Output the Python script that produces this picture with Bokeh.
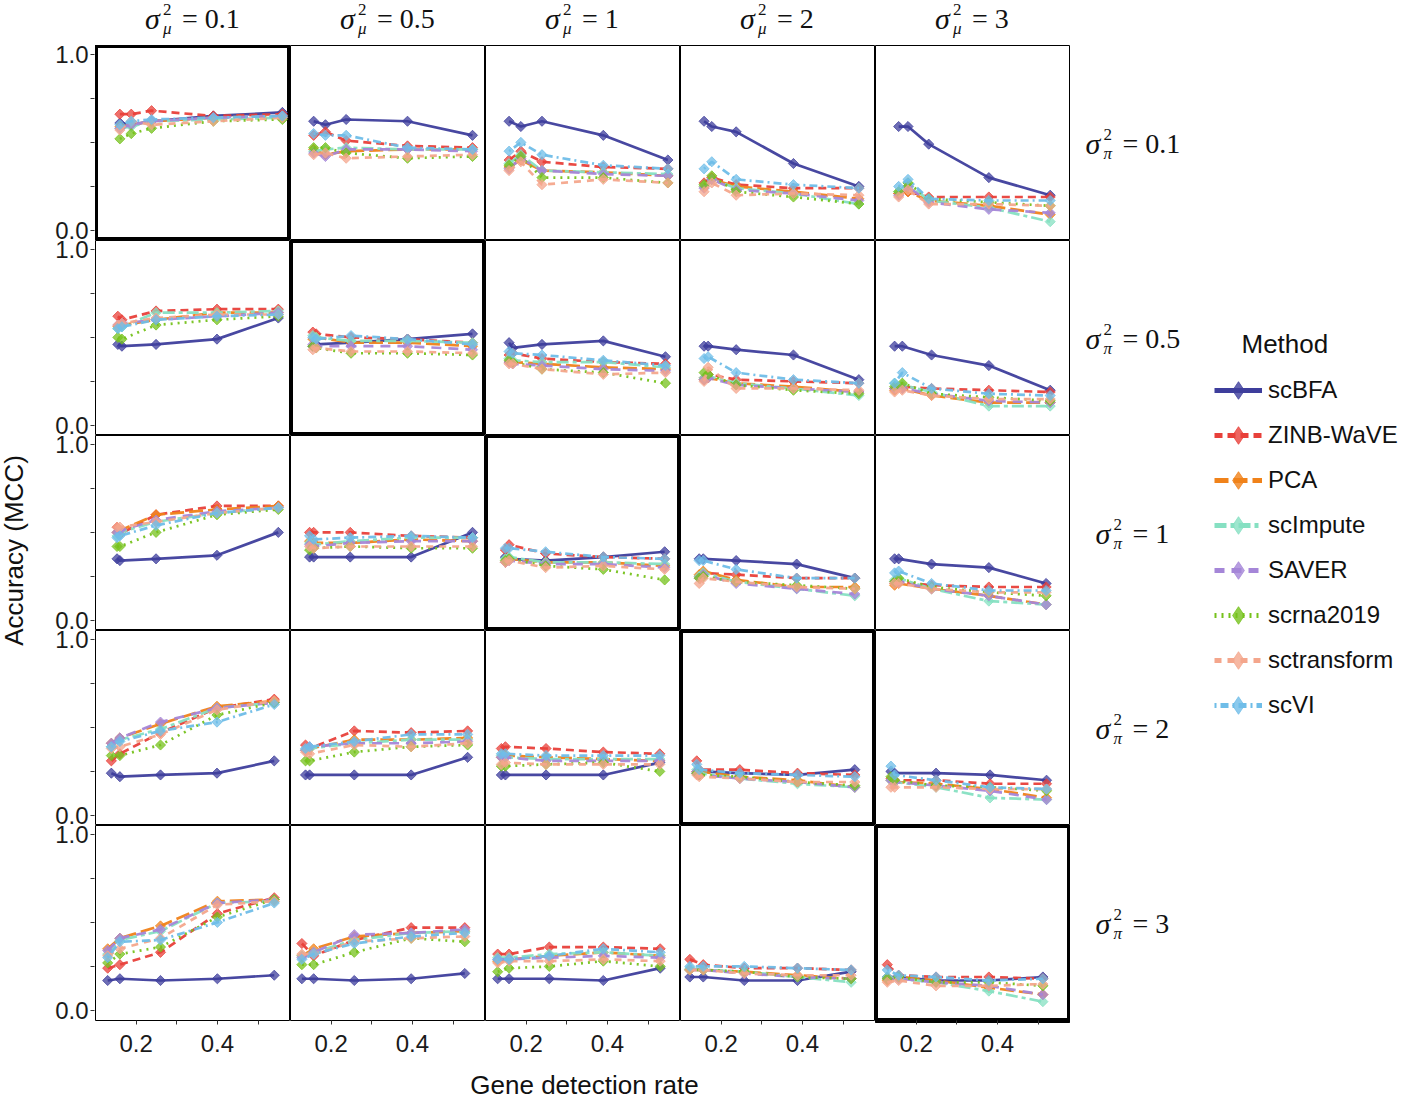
import numpy as np
from bokeh.plotting import figure
from bokeh.layouts import row, column
from bokeh.models import (ColumnDataSource, Legend, LegendItem, FixedTicker, Range1d,
                          NumeralTickFormatter, CustomJSTickFormatter)
from bokeh.embed import file_html
from bokeh.resources import INLINE
from bokeh.core.properties import value

# ---------------- data ----------------
methods = ["scBFA", "ZINB-WaVE", "PCA", "scImpute", "SAVER", "scrna2019", "sctransform", "scVI"]
mu_labels = ["0.1", "0.5", "1", "2", "3"]   # columns: sigma_mu^2
pi_labels = ["0.1", "0.5", "1", "2", "3"]   # rows: sigma_pi^2

# gene detection rate (x) per row (sigma_pi^2), per column (sigma_mu^2)
gdr_pi01 = [[0.160, 0.188, 0.238, 0.390, 0.560], [0.157, 0.186, 0.237, 0.388, 0.548],
            [0.158, 0.187, 0.239, 0.390, 0.549], [0.158, 0.177, 0.237, 0.378, 0.539],
            [0.157, 0.180, 0.231, 0.379, 0.530]]
gdr_pi05 = [[0.155, 0.165, 0.249, 0.399, 0.550], [0.155, 0.163, 0.249, 0.388, 0.548],
            [0.158, 0.167, 0.239, 0.390, 0.543], [0.158, 0.168, 0.237, 0.378, 0.539],
            [0.147, 0.166, 0.238, 0.379, 0.530]]
gdr_pi1 = [[0.153, 0.160, 0.249, 0.399, 0.550], [0.147, 0.157, 0.247, 0.397, 0.548],
           [0.149, 0.158, 0.248, 0.390, 0.541], [0.146, 0.156, 0.237, 0.386, 0.529],
           [0.147, 0.157, 0.238, 0.379, 0.520]]
gdr_pi2 = [[0.139, 0.160, 0.260, 0.399, 0.540], [0.137, 0.147, 0.257, 0.397, 0.536],
           [0.139, 0.149, 0.249, 0.390, 0.529], [0.140, 0.146, 0.246, 0.388, 0.529],
           [0.138, 0.147, 0.249, 0.382, 0.521]]
gdr_pi3 = [[0.130, 0.160, 0.260, 0.400, 0.540], [0.128, 0.157, 0.257, 0.397, 0.529],
           [0.130, 0.158, 0.257, 0.390, 0.530], [0.123, 0.156, 0.257, 0.388, 0.520],
           [0.129, 0.157, 0.249, 0.379, 0.512]]

# accuracy (MCC): [row sigma_pi^2][column sigma_mu^2][5 points]
scBFA = [
    [[0.61, 0.60, 0.62, 0.65, 0.67], [0.62, 0.60, 0.63, 0.62, 0.54], [0.62, 0.59, 0.62, 0.54, 0.40], [0.62, 0.59, 0.56, 0.38, 0.25], [0.59, 0.59, 0.49, 0.30, 0.20]],
    [[0.46, 0.45, 0.46, 0.49, 0.61], [0.45, 0.46, 0.47, 0.49, 0.52], [0.47, 0.44, 0.46, 0.48, 0.39], [0.45, 0.45, 0.43, 0.40, 0.26], [0.45, 0.45, 0.40, 0.34, 0.20]],
    [[0.35, 0.34, 0.35, 0.37, 0.50], [0.36, 0.36, 0.36, 0.36, 0.50], [0.36, 0.35, 0.34, 0.36, 0.39], [0.35, 0.35, 0.34, 0.32, 0.24], [0.35, 0.35, 0.32, 0.30, 0.21]],
    [[0.24, 0.22, 0.23, 0.24, 0.31], [0.23, 0.23, 0.23, 0.23, 0.33], [0.23, 0.23, 0.23, 0.23, 0.30], [0.24, 0.25, 0.24, 0.23, 0.26], [0.25, 0.24, 0.24, 0.23, 0.20]],
    [[0.17, 0.18, 0.17, 0.18, 0.20], [0.18, 0.18, 0.17, 0.18, 0.21], [0.18, 0.18, 0.18, 0.17, 0.24], [0.19, 0.19, 0.17, 0.17, 0.22], [0.19, 0.19, 0.17, 0.17, 0.19]],
]
ZINB_WaVE = [
    [[0.66, 0.66, 0.68, 0.65, 0.66], [0.54, 0.56, 0.51, 0.48, 0.47], [0.40, 0.45, 0.39, 0.36, 0.35], [0.27, 0.30, 0.26, 0.24, 0.24], [0.21, 0.22, 0.19, 0.19, 0.19]],
    [[0.62, 0.60, 0.65, 0.66, 0.66], [0.53, 0.52, 0.50, 0.49, 0.47], [0.40, 0.41, 0.38, 0.36, 0.35], [0.27, 0.29, 0.26, 0.25, 0.24], [0.21, 0.22, 0.21, 0.20, 0.19]],
    [[0.53, 0.49, 0.60, 0.65, 0.65], [0.50, 0.50, 0.50, 0.48, 0.47], [0.40, 0.43, 0.38, 0.36, 0.35], [0.25, 0.27, 0.26, 0.24, 0.24], [0.21, 0.22, 0.20, 0.19, 0.19]],
    [[0.31, 0.35, 0.47, 0.61, 0.66], [0.40, 0.38, 0.48, 0.47, 0.48], [0.38, 0.39, 0.38, 0.36, 0.35], [0.31, 0.26, 0.26, 0.24, 0.23], [0.21, 0.20, 0.20, 0.18, 0.18]],
    [[0.24, 0.26, 0.33, 0.55, 0.64], [0.38, 0.31, 0.40, 0.47, 0.47], [0.32, 0.32, 0.36, 0.36, 0.35], [0.29, 0.26, 0.24, 0.24, 0.23], [0.26, 0.20, 0.19, 0.19, 0.18]],
]
PCA = [
    [[0.59, 0.60, 0.62, 0.64, 0.65], [0.46, 0.43, 0.45, 0.46, 0.46], [0.36, 0.40, 0.34, 0.33, 0.31], [0.25, 0.29, 0.25, 0.22, 0.18], [0.21, 0.22, 0.17, 0.14, 0.09]],
    [[0.56, 0.57, 0.60, 0.64, 0.64], [0.49, 0.50, 0.47, 0.47, 0.45], [0.36, 0.36, 0.35, 0.33, 0.32], [0.26, 0.27, 0.24, 0.22, 0.19], [0.20, 0.21, 0.17, 0.13, 0.13]],
    [[0.50, 0.51, 0.60, 0.63, 0.65], [0.45, 0.44, 0.44, 0.46, 0.45], [0.33, 0.35, 0.33, 0.33, 0.31], [0.26, 0.28, 0.23, 0.19, 0.19], [0.20, 0.21, 0.18, 0.14, 0.09]],
    [[0.41, 0.44, 0.52, 0.62, 0.65], [0.37, 0.38, 0.43, 0.43, 0.44], [0.33, 0.34, 0.33, 0.32, 0.31], [0.25, 0.25, 0.22, 0.20, 0.16], [0.20, 0.19, 0.18, 0.15, 0.10]],
    [[0.35, 0.41, 0.48, 0.62, 0.63], [0.31, 0.35, 0.42, 0.44, 0.45], [0.28, 0.29, 0.31, 0.33, 0.31], [0.23, 0.23, 0.22, 0.20, 0.18], [0.17, 0.19, 0.17, 0.13, 0.09]],
]
scImpute = [
    [[0.58, 0.59, 0.62, 0.63, 0.64], [0.45, 0.46, 0.47, 0.46, 0.46], [0.38, 0.43, 0.34, 0.33, 0.32], [0.25, 0.29, 0.24, 0.21, 0.15], [0.22, 0.27, 0.17, 0.13, 0.05]],
    [[0.55, 0.56, 0.64, 0.64, 0.65], [0.51, 0.50, 0.48, 0.48, 0.47], [0.38, 0.37, 0.36, 0.36, 0.33], [0.27, 0.28, 0.24, 0.21, 0.17], [0.24, 0.23, 0.19, 0.11, 0.11]],
    [[0.48, 0.50, 0.56, 0.61, 0.64], [0.44, 0.43, 0.45, 0.47, 0.47], [0.35, 0.36, 0.33, 0.33, 0.32], [0.25, 0.27, 0.22, 0.18, 0.14], [0.23, 0.24, 0.18, 0.11, 0.09]],
    [[0.39, 0.43, 0.49, 0.61, 0.64], [0.37, 0.38, 0.41, 0.43, 0.43], [0.34, 0.33, 0.32, 0.32, 0.32], [0.26, 0.24, 0.21, 0.18, 0.16], [0.20, 0.19, 0.16, 0.10, 0.09]],
    [[0.32, 0.40, 0.45, 0.61, 0.62], [0.31, 0.33, 0.40, 0.44, 0.45], [0.30, 0.30, 0.32, 0.33, 0.31], [0.24, 0.23, 0.22, 0.19, 0.16], [0.19, 0.18, 0.16, 0.11, 0.05]],
]
SAVER = [
    [[0.58, 0.60, 0.62, 0.64, 0.65], [0.44, 0.42, 0.46, 0.46, 0.45], [0.35, 0.41, 0.34, 0.32, 0.31], [0.24, 0.29, 0.23, 0.21, 0.17], [0.20, 0.25, 0.16, 0.12, 0.10]],
    [[0.57, 0.58, 0.60, 0.62, 0.64], [0.46, 0.45, 0.45, 0.45, 0.43], [0.36, 0.35, 0.34, 0.32, 0.31], [0.26, 0.27, 0.23, 0.21, 0.19], [0.21, 0.21, 0.18, 0.14, 0.13]],
    [[0.50, 0.51, 0.57, 0.62, 0.64], [0.43, 0.42, 0.44, 0.45, 0.45], [0.33, 0.34, 0.32, 0.32, 0.30], [0.24, 0.26, 0.21, 0.18, 0.15], [0.22, 0.22, 0.18, 0.14, 0.09]],
    [[0.41, 0.44, 0.53, 0.61, 0.64], [0.37, 0.39, 0.41, 0.41, 0.42], [0.33, 0.33, 0.31, 0.31, 0.31], [0.25, 0.23, 0.21, 0.19, 0.16], [0.20, 0.19, 0.17, 0.14, 0.09]],
    [[0.34, 0.41, 0.46, 0.61, 0.63], [0.30, 0.33, 0.43, 0.44, 0.46], [0.29, 0.29, 0.30, 0.31, 0.30], [0.23, 0.23, 0.21, 0.19, 0.18], [0.18, 0.18, 0.16, 0.14, 0.09]],
]
scrna2019 = [
    [[0.52, 0.55, 0.58, 0.62, 0.63], [0.47, 0.47, 0.44, 0.41, 0.42], [0.37, 0.42, 0.30, 0.30, 0.27], [0.26, 0.31, 0.22, 0.19, 0.15], [0.22, 0.27, 0.18, 0.16, 0.14]],
    [[0.50, 0.49, 0.57, 0.60, 0.62], [0.45, 0.44, 0.41, 0.41, 0.40], [0.37, 0.36, 0.32, 0.30, 0.24], [0.30, 0.29, 0.23, 0.20, 0.18], [0.22, 0.24, 0.18, 0.16, 0.14]],
    [[0.42, 0.42, 0.50, 0.60, 0.63], [0.40, 0.41, 0.42, 0.41, 0.41], [0.34, 0.35, 0.31, 0.29, 0.23], [0.24, 0.25, 0.22, 0.20, 0.18], [0.22, 0.24, 0.19, 0.16, 0.14]],
    [[0.34, 0.34, 0.40, 0.57, 0.64], [0.31, 0.31, 0.36, 0.39, 0.40], [0.28, 0.28, 0.29, 0.30, 0.25], [0.24, 0.23, 0.22, 0.19, 0.17], [0.22, 0.20, 0.17, 0.16, 0.14]],
    [[0.27, 0.32, 0.36, 0.53, 0.63], [0.26, 0.26, 0.33, 0.41, 0.39], [0.22, 0.24, 0.25, 0.28, 0.25], [0.23, 0.23, 0.22, 0.19, 0.18], [0.18, 0.19, 0.16, 0.16, 0.14]],
]
sctransform = [
    [[0.57, 0.62, 0.60, 0.62, 0.64], [0.43, 0.44, 0.41, 0.42, 0.43], [0.34, 0.39, 0.26, 0.29, 0.27], [0.22, 0.27, 0.20, 0.21, 0.20], [0.19, 0.23, 0.15, 0.15, 0.14]],
    [[0.57, 0.58, 0.61, 0.63, 0.63], [0.43, 0.44, 0.42, 0.42, 0.41], [0.35, 0.35, 0.32, 0.29, 0.30], [0.25, 0.33, 0.21, 0.21, 0.20], [0.19, 0.20, 0.17, 0.15, 0.15]],
    [[0.53, 0.53, 0.56, 0.61, 0.64], [0.42, 0.41, 0.42, 0.42, 0.42], [0.33, 0.34, 0.30, 0.31, 0.29], [0.21, 0.24, 0.22, 0.19, 0.18], [0.21, 0.21, 0.18, 0.16, 0.16]],
    [[0.38, 0.39, 0.46, 0.60, 0.65], [0.36, 0.35, 0.40, 0.39, 0.41], [0.29, 0.30, 0.29, 0.29, 0.29], [0.23, 0.22, 0.21, 0.19, 0.19], [0.16, 0.16, 0.16, 0.15, 0.15]],
    [[0.31, 0.35, 0.41, 0.60, 0.62], [0.32, 0.32, 0.39, 0.41, 0.42], [0.27, 0.28, 0.28, 0.29, 0.28], [0.23, 0.23, 0.21, 0.20, 0.20], [0.16, 0.17, 0.14, 0.14, 0.15]],
]
scVI = [
    [[0.60, 0.62, 0.63, 0.64, 0.65], [0.55, 0.54, 0.54, 0.47, 0.46], [0.45, 0.50, 0.43, 0.37, 0.35], [0.35, 0.39, 0.29, 0.26, 0.24], [0.25, 0.29, 0.18, 0.17, 0.17]],
    [[0.55, 0.56, 0.60, 0.62, 0.63], [0.50, 0.49, 0.51, 0.49, 0.46], [0.42, 0.41, 0.40, 0.37, 0.34], [0.38, 0.39, 0.30, 0.26, 0.24], [0.24, 0.30, 0.21, 0.18, 0.17]],
    [[0.47, 0.48, 0.54, 0.61, 0.64], [0.48, 0.46, 0.47, 0.48, 0.47], [0.41, 0.41, 0.39, 0.36, 0.35], [0.34, 0.34, 0.29, 0.24, 0.24], [0.27, 0.28, 0.21, 0.17, 0.17]],
    [[0.39, 0.42, 0.48, 0.53, 0.63], [0.38, 0.39, 0.42, 0.46, 0.46], [0.35, 0.35, 0.34, 0.34, 0.34], [0.29, 0.26, 0.24, 0.23, 0.22], [0.28, 0.23, 0.20, 0.16, 0.15]],
    [[0.30, 0.39, 0.40, 0.50, 0.61], [0.29, 0.32, 0.38, 0.42, 0.44], [0.29, 0.29, 0.31, 0.35, 0.33], [0.25, 0.25, 0.25, 0.24, 0.23], [0.23, 0.20, 0.19, 0.17, 0.18]],
]

series = [scBFA, ZINB_WaVE, PCA, scImpute, SAVER, scrna2019, sctransform, scVI]
gdr = [gdr_pi01, gdr_pi05, gdr_pi1, gdr_pi2, gdr_pi3]

# ---------------- style ----------------
colors = ["#3E3E9C", "#E8403A", "#F0821A", "#86E0C2", "#A586D8", "#76C21C", "#F4A68C", "#6FBDE8"]
dashes = ["solid", "8 5", "14 5", "12 4 4 4", "10 7", "2 5", "7 6", "2 4 8 4"]
SANS = "Liberation Sans"
SERIF = "Liberation Serif"
PW = 195          # panel size
HDR = 45          # column-strip header height
BB = 42           # bottom border for x axis
XT = 40           # x title height
GRID_H = 5 * PW
TOTAL_H = HDR + GRID_H + BB + XT
BOT = TOTAL_H - HDR - GRID_H
YLO, YHI = -0.057, 1.05
SPAN = YHI - YLO


def style_axis(ax, standoff):
    ax.axis_line_color = None
    ax.major_tick_line_color = "#333333"
    ax.minor_tick_line_color = "#333333"
    ax.major_tick_out = 4
    ax.major_tick_in = 0
    ax.minor_tick_out = 4
    ax.minor_tick_in = 0
    ax.major_label_text_font = SANS
    ax.major_label_text_font_size = "24px"
    ax.major_label_text_color = "#1a1a1a"
    ax.major_label_standoff = standoff


def blank_fig(w, h, xr, yr, top=0, bottom=0):
    f = figure(width=w, height=h, x_range=Range1d(*xr), y_range=Range1d(*yr),
               output_backend="svg", toolbar_location=None,
               x_axis_location=None, y_axis_location=None,
               min_border_left=0, min_border_right=0, min_border_top=top, min_border_bottom=bottom)
    f.outline_line_color = None
    f.xgrid.visible = False
    f.ygrid.visible = False
    return f


def make_panel(r, c):
    bottom = BB if r == 4 else 0
    p = figure(width=PW, height=PW + bottom,
               x_range=Range1d(0.1, 0.58), y_range=Range1d(YLO, YHI),
               output_backend="svg", toolbar_location=None,
               x_axis_location="below" if r == 4 else None, y_axis_location=None,
               min_border_left=0, min_border_right=0,
               min_border_top=0, min_border_bottom=bottom)
    p.xgrid.visible = False
    p.ygrid.visible = False
    p.outline_line_color = "black"
    p.outline_line_width = 5 if r == c else 1
    p.outline_line_alpha = 1
    if r == 4:
        ax = p.xaxis[0]
        ax.ticker = FixedTicker(ticks=[0.2, 0.4], minor_ticks=[0.3, 0.5])
        ax.formatter = NumeralTickFormatter(format="0.0")
        style_axis(ax, 10)
    for m in range(len(methods)):
        src = ColumnDataSource(dict(x=gdr[r][c], y=series[m][r][c]))
        p.line("x", "y", source=src, line_color=colors[m], line_width=2.7,
               line_dash=dashes[m], line_alpha=0.95)
        p.scatter("x", "y", source=src, marker="square", angle=np.pi / 4, size=7.2,
                  fill_color=colors[m], line_color=colors[m], fill_alpha=0.75, line_alpha=0.75)
    return p


def sigma_labels(f, xs, ys, sub, vals):
    n = len(xs)
    starts = [-48 if "." in v else -38 for v in vals]
    common = dict(text_align="left", text_baseline="middle", text_color="#111111")
    f.text(x=xs, y=ys, text=["σ"] * n, x_offset=starts, y_offset=[0] * n,
           text_font=value(SERIF), text_font_style="italic", text_font_size="30px", **common)
    f.text(x=xs, y=ys, text=["2"] * n, x_offset=[s + 18 for s in starts], y_offset=[-9] * n,
           text_font=value(SERIF), text_font_size="17px", **common)
    f.text(x=xs, y=ys, text=[sub] * n, x_offset=[s + 18 for s in starts], y_offset=[10] * n,
           text_font=value(SERIF), text_font_style="italic", text_font_size="17px", **common)
    f.text(x=xs, y=ys, text=["= " + v for v in vals], x_offset=[s + 37 for s in starts],
           y_offset=[0] * n, text_font=value(SERIF), text_font_size="28px", **common)


panels = [[make_panel(r, c) for c in range(5)] for r in range(5)]

# column strip header (sigma_mu^2)
header = blank_fig(5 * PW, HDR, (0, 5), (0, HDR))
sigma_labels(header, [c + 0.5 for c in range(5)], [27] * 5, "μ", mu_labels)

# x title
xtitle = blank_fig(5 * PW, XT, (0, 5 * PW), (0, XT))
xtitle.text(x=[489], y=[18], text=["Gene detection rate"],
            text_font=value(SANS), text_font_size="26px",
            text_align="center", text_baseline="middle", text_color="#111111")

center = column(header, *[row(*panels[r]) for r in range(5)], xtitle)

# shared y axis for the five panel rows (stacked scale: each row spans YLO..YHI)
yax = figure(width=48, height=TOTAL_H, x_range=Range1d(0, 1),
             y_range=Range1d(0, 5 * SPAN), output_backend="svg", toolbar_location=None,
             x_axis_location=None, y_axis_location="left",
             min_border_left=47, min_border_right=0, min_border_top=HDR,
             min_border_bottom=BOT)
yax.outline_line_color = None
yax.xgrid.visible = False
yax.ygrid.visible = False
major = []
minor = []
for k in range(5):
    base = k * SPAN - YLO
    major += [base + 0.0, base + 1.0]
    minor += [base + 0.25, base + 0.5, base + 0.75]
ay = yax.yaxis[0]
ay.ticker = FixedTicker(ticks=major, minor_ticks=minor)
ay.formatter = CustomJSTickFormatter(
    args=dict(span=SPAN, lo=YLO),
    code="const v = tick - Math.floor(tick / span + 1e-9) * span + lo; return v > 0.5 ? '1.0' : '0.0';")
style_axis(ay, 2)

# side figures share the panel frame band (page y HDR .. HDR+GRID_H)
# y title
ytitle = blank_fig(47, TOTAL_H, (0, 47), (0, GRID_H), top=HDR, bottom=BOT)
ytitle.text(x=[13], y=[HDR + GRID_H - 550], text=["Accuracy (MCC)"], angle=np.pi / 2,
            text_font=value(SANS), text_font_size="26px",
            text_align="center", text_baseline="middle", text_color="#111111")

# row strips (sigma_pi^2): one unit per panel row
strips = blank_fig(140, TOTAL_H, (0, 140), (0, 5), top=HDR, bottom=BOT)
sigma_labels(strips, [63] * 5, [4.5 - r for r in range(5)], "π", pi_labels)

# legend
legfig = blank_fig(192, TOTAL_H, (0, 192), (0, GRID_H), top=HDR, bottom=BOT)
items = []
for m in range(len(methods)):
    src = ColumnDataSource(dict(x=gdr[0][0][:1], y=series[m][0][0][:1]))
    lr = legfig.line("x", "y", source=src, line_color=colors[m], line_width=5, line_dash=dashes[m])
    sr = legfig.scatter("x", "y", source=src, marker="diamond", size=18,
                        fill_color=colors[m], line_color=colors[m], fill_alpha=0.8, line_alpha=0.8)
    lr.visible = False
    sr.visible = False
    items.append(LegendItem(label=methods[m], renderers=[lr, sr]))
GH = 44
SP = 1
first_center = 390
leg_bottom = first_center - GH / 2 + 8 * GH + 7 * SP
leg = Legend(items=items, location=(4, int(HDR + GRID_H - leg_bottom)), glyph_width=48,
             glyph_height=GH, spacing=SP, padding=0, margin=0, label_standoff=6,
             label_text_font=SANS, label_text_font_size="24px", label_text_color="#111111",
             border_line_color=None, background_fill_alpha=0)
legfig.add_layout(leg)
legfig.text(x=[31], y=[HDR + GRID_H - 343], text=["Method"], text_font=value(SANS),
            text_font_size="26px", text_align="left", text_baseline="middle", text_color="#111111")

layout = row(ytitle, yax, center, strips, legfig)

open("out.html", "w").write(file_html(layout, INLINE))
